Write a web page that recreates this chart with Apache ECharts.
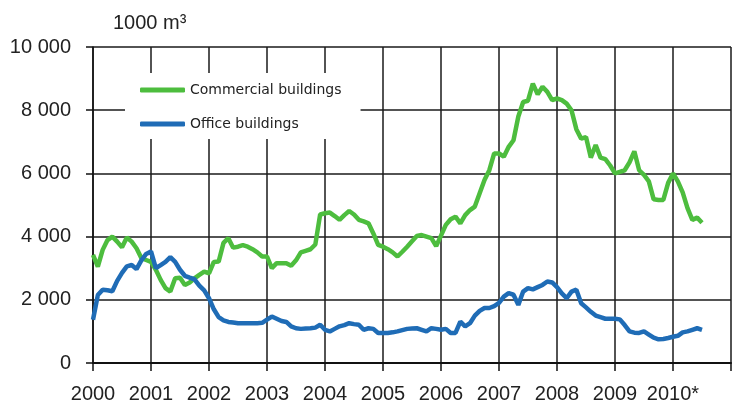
<!DOCTYPE html>
<html>
<head>
<meta charset="utf-8">
<script src="https://cdn.jsdelivr.net/npm/echarts@6/dist/echarts.min.js"></script>
<style>
html,body{margin:0;padding:0;background:#fff;}
#chart{width:734px;height:410px;}
</style>
</head>
<body>
<div id="chart"></div>
<script>
// Monthly data, January 2000 to July 2010 (1000 m3)
const startYear = 2000;
const commercial = [
  3420, 3050, 3580, 3890, 4000, 3840, 3660, 3970, 3840, 3630, 3320, 3260,
  3200, 2950, 2630, 2370, 2260, 2680, 2700, 2470, 2550, 2680, 2790, 2890,
  2840, 3200, 3210, 3800, 3950, 3650, 3680, 3730, 3680, 3600, 3500, 3370,
  3370, 3000, 3160, 3160, 3160, 3080, 3250, 3500, 3550, 3600, 3750, 4700,
  4740, 4760, 4650, 4530, 4680, 4810, 4700, 4530, 4480, 4420, 4100, 3740,
  3680, 3600, 3500, 3370, 3520, 3680, 3850, 4020, 4050, 4000, 3950, 3700,
  4030, 4370, 4550, 4630, 4420, 4680, 4840, 4950, 5370, 5790, 6100, 6630,
  6630, 6530, 6840, 7050, 7800, 8260, 8300, 8840, 8500, 8740, 8580, 8320,
  8370, 8320, 8210, 8000, 7400, 7100, 7150, 6500, 6900, 6500, 6450, 6250,
  6000, 6050, 6100, 6350, 6700, 6100, 5950, 5750, 5180, 5160, 5160, 5700,
  6000, 5750, 5400, 4900, 4530, 4600, 4440
];
const office = [
  1370, 2150, 2320, 2300, 2270, 2600, 2850, 3060, 3100, 2970, 3250, 3450,
  3530, 3000, 3100, 3200, 3350, 3200, 2950, 2760, 2700, 2650, 2450, 2300,
  2050, 1700, 1450, 1350, 1300, 1280, 1260, 1260, 1260, 1260, 1260, 1270,
  1370, 1470, 1400, 1330, 1300, 1160, 1100, 1080, 1090, 1100, 1120, 1210,
  1050, 1000, 1080, 1160, 1200, 1260, 1230, 1210, 1050, 1100, 1080, 950,
  950, 950, 970, 1000, 1040, 1080, 1090, 1100, 1050, 1000, 1100, 1080,
  1050, 1080, 950, 950, 1310, 1160, 1260, 1500, 1650, 1740, 1740, 1800,
  1900, 2100, 2210, 2160, 1840, 2260, 2370, 2330, 2400, 2470, 2580, 2550,
  2400, 2200, 2050, 2260, 2320, 1890, 1760, 1620, 1500, 1450, 1400, 1400,
  1400, 1380, 1200, 1000, 960, 950, 1000, 900, 800, 750, 760, 790,
  830, 860, 970, 1000, 1050, 1100, 1050
];
const seriesNames = ['Commercial buildings', 'Office buildings'];
const xTickLabels = ['2000','2001','2002','2003','2004','2005','2006','2007','2008','2009','2010*'];
const yTickLabels = ['0','2 000','4 000','6 000','8 000','10 000'];
const unitLabel = '1000 m\u00b3';

function toPoints(arr){ return arr.map((v,i)=>[startYear + i/12, v]); }

const chart = echarts.init(document.getElementById('chart'), null, {renderer:'canvas'});
const font = 'Liberation Sans, Arial, sans-serif';
chart.setOption({
  animation:false,
  backgroundColor:'#fff',
  title:{
    text:unitLabel, left:108, top:8,
    textStyle:{fontFamily:font, fontSize:20, fontWeight:'normal', color:'#222'}
  },
  legend:{
    data:seriesNames, orient:'vertical', left:125, top:73,
    padding:[7,19,5,15], itemGap:14, backgroundColor:'#fff',
    icon:'roundRect', itemWidth:45, itemHeight:5,
    textStyle:{fontFamily:'DejaVu Sans, Verdana, sans-serif', fontSize:14, color:'#222', lineHeight:20}
  },
  grid:{left:93, top:47, right:-12, height:316, containLabel:false},
  xAxis:{
    type:'value', min:2000, max:2011, interval:1,
    axisLine:{show:true, onZero:false, lineStyle:{color:'#111', width:2}},
    axisTick:{show:true, length:8, lineStyle:{color:'#111', width:1.5}},
    axisLabel:{margin:21, fontFamily:font, fontSize:20, color:'#222',
      formatter:function(v){ const k=Math.round(v-startYear); return (Math.abs(v-startYear-k)<1e-6 && k < xTickLabels.length) ? xTickLabels[k] : ''; }},
    splitLine:{show:true, lineStyle:{color:'#1a1a1a', width:1.5}}
  },
  yAxis:{
    type:'value', min:0, max:10000, interval:2000,
    axisLine:{show:true, lineStyle:{color:'#111', width:1.5}},
    axisTick:{show:true, length:7, lineStyle:{color:'#111', width:1.5}},
    axisLabel:{margin:22, fontFamily:font, fontSize:20, color:'#222',
      formatter:function(v){ return yTickLabels[Math.round(v/2000)]; }},
    splitLine:{show:true, lineStyle:{color:'#1a1a1a', width:1.5}}
  },
  series:[
    {name:seriesNames[0], type:'line', data:toPoints(commercial), symbol:'none',
     lineStyle:{color:'#4dbd3e', width:4.5}, itemStyle:{color:'#4dbd3e'}, z:3},
    {name:seriesNames[1], type:'line', data:toPoints(office), symbol:'none',
     lineStyle:{color:'#1f6cb6', width:4.5}, itemStyle:{color:'#1f6cb6'}, z:4}
  ]
});
</script>
</body>
</html>
